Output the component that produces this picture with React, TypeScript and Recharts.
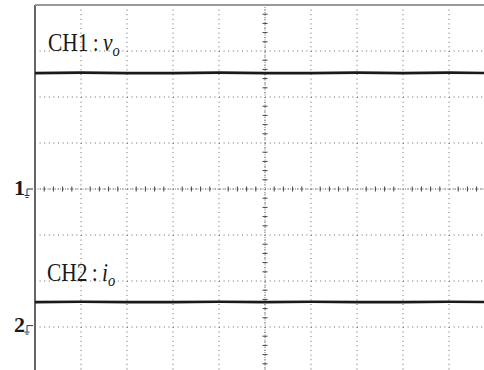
import React from 'react';
import {
    LineChart,
    Line,
    XAxis,
    YAxis,
    CartesianGrid,
    ReferenceLine,
    ReferenceDot,
} from 'recharts';

// Screen divisions (horizontal 0..10, vertical -4..4)
const xDivs = [0, 1, 2, 3, 4, 5, 6, 7, 8, 9, 10];
const yDivs = [-4, -3, -2, -1, 0, 1, 2, 3, 4];

// Trace levels, one sample per division
const ch1Level = [2.52, 2.53, 2.52, 2.52, 2.53, 2.52, 2.52, 2.53, 2.52, 2.53, 2.52];
const ch2Level = [-2.46, -2.45, -2.46, -2.46, -2.45, -2.46, -2.45, -2.46, -2.46, -2.45, -2.46];

// Ground reference markers
const ch1Ground = 0;
const ch2Ground = -2.97;

const traceData = xDivs.map((x, i) => ({ x, ch1: ch1Level[i], ch2: ch2Level[i] }));

// minor ticks on the centre graticule, 5 per division
const minorX = xDivs.slice(0, -1).flatMap((d) => [0.2, 0.4, 0.6, 0.8].map((f) => d + f));
const minorY = yDivs.slice(0, -1).flatMap((d) => [0.2, 0.4, 0.6, 0.8].map((f) => d + f));

const SERIF = '"Liberation Serif", "Times New Roman", serif';

const ChannelLabel = ({ cx, cy, num, sym }: any) => (
    <text
        transform={`translate(${cx},${cy}) scale(0.86,1)`}
        style={{ fontFamily: SERIF, fontSize: 25, fill: '#1a1a1a' }}
    >
        <tspan>{`CH${num}`}</tspan>
        <tspan dx={5}>:</tspan>
        <tspan dx={5} style={{ fontStyle: 'italic' }}>{sym}</tspan>
        <tspan dy={5} style={{ fontStyle: 'italic', fontSize: 17 }}>o</tspan>
    </text>
);

const GroundMarker = ({ cx, cy, num }: any) => (
    <g>
        <text
            x={cx - 21}
            y={cy + 6}
            style={{ fontFamily: SERIF, fontSize: 22, fontWeight: 'bold', fill: '#1a1a1a' }}
        >
            {num}
        </text>
        <path
            d={`M${cx - 2},${cy} H${cx - 8} V${cy + 6} M${cx - 10.5},${cy + 6.5} H${cx - 5.5} M${cx - 9.5},${cy + 8.5} H${cx - 6.5}`}
            stroke="#333"
            strokeWidth={1}
            fill="none"
        />
    </g>
);

export default function App() {
    return (
        <div
            style={{
                position: 'fixed',
                top: 0,
                left: 0,
                width: 484,
                height: 370,
                overflow: 'hidden',
                background: '#fff',
            }}
        >
            <LineChart
                width={500}
                height={380}
                data={traceData}
                margin={{ top: 5, right: 5, bottom: 7, left: 35 }}
            >
                <XAxis dataKey="x" type="number" domain={[0, 10]} ticks={xDivs} hide />
                <YAxis type="number" domain={[-4, 4]} ticks={yDivs} hide />
                <CartesianGrid
                    stroke="#666"
                    strokeDasharray="1 3.6"
                    verticalValues={xDivs}
                    horizontalValues={yDivs}
                />

                <ReferenceLine x={5} stroke="#777" strokeDasharray="1 1.5" />
                <ReferenceLine y={0} stroke="#777" strokeDasharray="1 1.5" />
                {minorX.map((t) => (
                    <ReferenceLine
                        key={`mx${t}`}
                        segment={[{ x: t, y: -0.055 }, { x: t, y: 0.055 }]}
                        stroke="#444"
                    />
                ))}
                {minorY.map((t) => (
                    <ReferenceLine
                        key={`my${t}`}
                        segment={[{ x: 4.945, y: t }, { x: 5.055, y: t }]}
                        stroke="#444"
                    />
                ))}

                {/* screen frame */}
                <ReferenceLine x={0} stroke="#666" strokeWidth={2} ifOverflow="visible" />
                <ReferenceLine y={4} stroke="#999" strokeWidth={2} ifOverflow="visible" />

                <Line
                    dataKey="ch1"
                    stroke="#1a1a1a"
                    strokeWidth={2.6}
                    dot={false}
                    isAnimationActive={false}
                />
                <Line
                    dataKey="ch2"
                    stroke="#1a1a1a"
                    strokeWidth={2.6}
                    dot={false}
                    isAnimationActive={false}
                />

                <ReferenceDot
                    x={0.28}
                    y={3}
                    r={0}
                    shape={(p: any) => <ChannelLabel {...p} num={1} sym="v" />}
                />
                <ReferenceDot
                    x={0.26}
                    y={-2}
                    r={0}
                    shape={(p: any) => <ChannelLabel {...p} num={2} sym="i" />}
                />
                <ReferenceDot
                    x={0}
                    y={ch1Ground}
                    r={0}
                    shape={(p: any) => <GroundMarker {...p} num={1} />}
                />
                <ReferenceDot
                    x={0}
                    y={ch2Ground}
                    r={0}
                    shape={(p: any) => <GroundMarker {...p} num={2} />}
                />
            </LineChart>
        </div>
    );
}
